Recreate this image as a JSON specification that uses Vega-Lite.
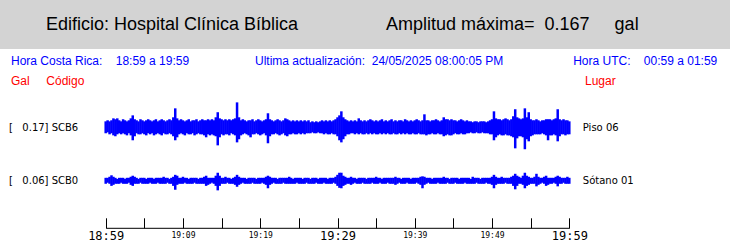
{
  "$schema": "https://vega.github.io/schema/vega-lite/v6.json",
  "padding": 0,
  "spacing": 0,
  "background": "white",
  "config": {
    "view": {"stroke": null},
    "axis": {"grid": false, "labelColor": "black", "tickColor": "black", "domainColor": "black"}
  },
  "datasets": {
    "scb6": [
{"t":0,"lo":-0.04,"hi":0.04},{"t":0.25,"lo":-0.034,"hi":0.047},{"t":0.5,"lo":-0.047,"hi":0.04},{"t":0.75,"lo":-0.04,"hi":0.047},{"t":1,"lo":-0.054,"hi":0.06},{"t":1.25,"lo":-0.06,"hi":0.054},{"t":1.5,"lo":-0.047,"hi":0.06},{"t":1.75,"lo":-0.04,"hi":0.047},{"t":2,"lo":-0.047,"hi":0.04},{"t":2.25,"lo":-0.04,"hi":0.054},{"t":2.5,"lo":-0.047,"hi":0.047},{"t":2.75,"lo":-0.054,"hi":0.04},{"t":3,"lo":-0.04,"hi":0.047},{"t":3.25,"lo":-0.054,"hi":0.06},{"t":3.5,"lo":-0.087,"hi":0.08},{"t":3.75,"lo":-0.06,"hi":0.054},{"t":4,"lo":-0.04,"hi":0.047},{"t":4.25,"lo":-0.047,"hi":0.04},{"t":4.5,"lo":-0.047,"hi":0.054},{"t":4.75,"lo":-0.04,"hi":0.047},{"t":5,"lo":-0.047,"hi":0.04},{"t":5.25,"lo":-0.054,"hi":0.047},{"t":5.5,"lo":-0.04,"hi":0.054},{"t":5.75,"lo":-0.047,"hi":0.047},{"t":6,"lo":-0.04,"hi":0.04},{"t":6.25,"lo":-0.054,"hi":0.047},{"t":6.5,"lo":-0.047,"hi":0.054},{"t":6.75,"lo":-0.04,"hi":0.04},{"t":7,"lo":-0.047,"hi":0.047},{"t":7.25,"lo":-0.054,"hi":0.054},{"t":7.5,"lo":-0.04,"hi":0.047},{"t":7.75,"lo":-0.047,"hi":0.04},{"t":8,"lo":-0.047,"hi":0.047},{"t":8.25,"lo":-0.04,"hi":0.054},{"t":8.5,"lo":-0.047,"hi":0.047},{"t":8.75,"lo":-0.06,"hi":0.067},{"t":9,"lo":-0.087,"hi":0.127},{"t":9.25,"lo":-0.067,"hi":0.06},{"t":9.5,"lo":-0.047,"hi":0.047},{"t":9.75,"lo":-0.04,"hi":0.054},
{"t":10,"lo":-0.047,"hi":0.047},{"t":10.25,"lo":-0.054,"hi":0.04},{"t":10.5,"lo":-0.04,"hi":0.047},{"t":10.75,"lo":-0.047,"hi":0.054},{"t":11,"lo":-0.047,"hi":0.04},{"t":11.25,"lo":-0.04,"hi":0.047},{"t":11.5,"lo":-0.054,"hi":0.047},{"t":11.75,"lo":-0.047,"hi":0.054},{"t":12,"lo":-0.04,"hi":0.04},{"t":12.25,"lo":-0.047,"hi":0.047},{"t":12.5,"lo":-0.047,"hi":0.054},{"t":12.75,"lo":-0.054,"hi":0.047},{"t":13,"lo":-0.067,"hi":0.047},{"t":13.25,"lo":-0.047,"hi":0.054},{"t":13.5,"lo":-0.054,"hi":0.047},{"t":13.75,"lo":-0.047,"hi":0.054},{"t":14,"lo":-0.054,"hi":0.047},{"t":14.25,"lo":-0.06,"hi":0.067},{"t":14.5,"lo":-0.121,"hi":0.101},{"t":14.75,"lo":-0.067,"hi":0.06},{"t":15,"lo":-0.047,"hi":0.054},{"t":15.25,"lo":-0.054,"hi":0.047},{"t":15.5,"lo":-0.047,"hi":0.054},{"t":15.75,"lo":-0.047,"hi":0.047},{"t":16,"lo":-0.054,"hi":0.054},{"t":16.25,"lo":-0.04,"hi":0.047},{"t":16.5,"lo":-0.047,"hi":0.054},{"t":16.75,"lo":-0.054,"hi":0.06},{"t":17,"lo":-0.101,"hi":0.167},{"t":17.25,"lo":-0.08,"hi":0.067},{"t":17.5,"lo":-0.054,"hi":0.047},{"t":17.75,"lo":-0.047,"hi":0.054},{"t":18,"lo":-0.04,"hi":0.047},{"t":18.25,"lo":-0.047,"hi":0.04},{"t":18.5,"lo":-0.054,"hi":0.047},{"t":18.75,"lo":-0.067,"hi":0.047},{"t":19,"lo":-0.047,"hi":0.054},{"t":19.25,"lo":-0.047,"hi":0.04},{"t":19.5,"lo":-0.04,"hi":0.047},{"t":19.75,"lo":-0.047,"hi":0.054},
{"t":20,"lo":-0.054,"hi":0.047},{"t":20.25,"lo":-0.047,"hi":0.04},{"t":20.5,"lo":-0.04,"hi":0.047},{"t":20.75,"lo":-0.054,"hi":0.054},{"t":21,"lo":-0.107,"hi":0.094},{"t":21.25,"lo":-0.06,"hi":0.054},{"t":21.5,"lo":-0.047,"hi":0.047},{"t":21.75,"lo":-0.047,"hi":0.04},{"t":22,"lo":-0.04,"hi":0.047},{"t":22.25,"lo":-0.047,"hi":0.054},{"t":22.5,"lo":-0.054,"hi":0.047},{"t":22.75,"lo":-0.047,"hi":0.04},{"t":23,"lo":-0.04,"hi":0.047},{"t":23.25,"lo":-0.054,"hi":0.06},{"t":23.5,"lo":-0.06,"hi":0.054},{"t":23.75,"lo":-0.047,"hi":0.047},{"t":24,"lo":-0.047,"hi":0.04},{"t":24.25,"lo":-0.04,"hi":0.047},{"t":24.5,"lo":-0.047,"hi":0.04},{"t":24.75,"lo":-0.047,"hi":0.047},{"t":25,"lo":-0.04,"hi":0.04},{"t":25.25,"lo":-0.047,"hi":0.047},{"t":25.5,"lo":-0.04,"hi":0.04},{"t":25.75,"lo":-0.047,"hi":0.047},{"t":26,"lo":-0.04,"hi":0.04},{"t":26.25,"lo":-0.04,"hi":0.047},{"t":26.5,"lo":-0.04,"hi":0.034},{"t":26.75,"lo":-0.034,"hi":0.04},{"t":27,"lo":-0.04,"hi":0.034},{"t":27.25,"lo":-0.04,"hi":0.04},{"t":27.5,"lo":-0.034,"hi":0.034},{"t":27.75,"lo":-0.04,"hi":0.04},{"t":28,"lo":-0.04,"hi":0.047},{"t":28.25,"lo":-0.047,"hi":0.04},{"t":28.5,"lo":-0.04,"hi":0.047},{"t":28.75,"lo":-0.047,"hi":0.04},{"t":29,"lo":-0.047,"hi":0.047},{"t":29.25,"lo":-0.04,"hi":0.04},{"t":29.5,"lo":-0.047,"hi":0.047},{"t":29.75,"lo":-0.047,"hi":0.054},
{"t":30,"lo":-0.06,"hi":0.067},{"t":30.25,"lo":-0.087,"hi":0.08},{"t":30.5,"lo":-0.101,"hi":0.107},{"t":30.75,"lo":-0.08,"hi":0.067},{"t":31,"lo":-0.06,"hi":0.054},{"t":31.25,"lo":-0.047,"hi":0.047},{"t":31.5,"lo":-0.047,"hi":0.04},{"t":31.75,"lo":-0.04,"hi":0.047},{"t":32,"lo":-0.04,"hi":0.04},{"t":32.25,"lo":-0.047,"hi":0.047},{"t":32.5,"lo":-0.04,"hi":0.04},{"t":32.75,"lo":-0.047,"hi":0.06},{"t":33,"lo":-0.04,"hi":0.047},{"t":33.25,"lo":-0.047,"hi":0.04},{"t":33.5,"lo":-0.047,"hi":0.047},{"t":33.75,"lo":-0.04,"hi":0.04},{"t":34,"lo":-0.047,"hi":0.047},{"t":34.25,"lo":-0.04,"hi":0.054},{"t":34.5,"lo":-0.047,"hi":0.047},{"t":34.75,"lo":-0.04,"hi":0.04},{"t":35,"lo":-0.047,"hi":0.047},{"t":35.25,"lo":-0.047,"hi":0.04},{"t":35.5,"lo":-0.04,"hi":0.047},{"t":35.75,"lo":-0.047,"hi":0.054},{"t":36,"lo":-0.04,"hi":0.04},{"t":36.25,"lo":-0.047,"hi":0.047},{"t":36.5,"lo":-0.04,"hi":0.04},{"t":36.75,"lo":-0.047,"hi":0.047},{"t":37,"lo":-0.047,"hi":0.054},{"t":37.25,"lo":-0.04,"hi":0.04},{"t":37.5,"lo":-0.047,"hi":0.047},{"t":37.75,"lo":-0.047,"hi":0.04},{"t":38,"lo":-0.04,"hi":0.047},{"t":38.25,"lo":-0.047,"hi":0.047},{"t":38.5,"lo":-0.04,"hi":0.04},{"t":38.75,"lo":-0.047,"hi":0.054},{"t":39,"lo":-0.04,"hi":0.047},{"t":39.25,"lo":-0.047,"hi":0.04},{"t":39.5,"lo":-0.047,"hi":0.047},{"t":39.75,"lo":-0.04,"hi":0.04},
{"t":40,"lo":-0.047,"hi":0.047},{"t":40.25,"lo":-0.047,"hi":0.054},{"t":40.5,"lo":-0.04,"hi":0.047},{"t":40.75,"lo":-0.047,"hi":0.04},{"t":41,"lo":-0.047,"hi":0.047},{"t":41.25,"lo":-0.047,"hi":0.087},{"t":41.5,"lo":-0.054,"hi":0.047},{"t":41.75,"lo":-0.047,"hi":0.047},{"t":42,"lo":-0.047,"hi":0.04},{"t":42.25,"lo":-0.04,"hi":0.047},{"t":42.5,"lo":-0.047,"hi":0.047},{"t":42.75,"lo":-0.047,"hi":0.054},{"t":43,"lo":-0.04,"hi":0.047},{"t":43.25,"lo":-0.047,"hi":0.04},{"t":43.5,"lo":-0.047,"hi":0.047},{"t":43.75,"lo":-0.06,"hi":0.067},{"t":44,"lo":-0.054,"hi":0.054},{"t":44.25,"lo":-0.047,"hi":0.054},{"t":44.5,"lo":-0.054,"hi":0.047},{"t":44.75,"lo":-0.054,"hi":0.054},{"t":45,"lo":-0.047,"hi":0.047},{"t":45.25,"lo":-0.04,"hi":0.047},{"t":45.5,"lo":-0.047,"hi":0.04},{"t":45.75,"lo":-0.047,"hi":0.047},{"t":46,"lo":-0.04,"hi":0.054},{"t":46.25,"lo":-0.047,"hi":0.047},{"t":46.5,"lo":-0.047,"hi":0.04},{"t":46.75,"lo":-0.04,"hi":0.047},{"t":47,"lo":-0.04,"hi":0.04},{"t":47.25,"lo":-0.034,"hi":0.04},{"t":47.5,"lo":-0.04,"hi":0.034},{"t":47.75,"lo":-0.04,"hi":0.04},{"t":48,"lo":-0.034,"hi":0.04},{"t":48.25,"lo":-0.04,"hi":0.034},{"t":48.5,"lo":-0.04,"hi":0.04},{"t":48.75,"lo":-0.034,"hi":0.04},{"t":49,"lo":-0.04,"hi":0.04},{"t":49.25,"lo":-0.04,"hi":0.034},{"t":49.5,"lo":-0.04,"hi":0.04},{"t":49.75,"lo":-0.047,"hi":0.047},
{"t":50,"lo":-0.047,"hi":0.054},{"t":50.25,"lo":-0.087,"hi":0.107},{"t":50.5,"lo":-0.067,"hi":0.06},{"t":50.75,"lo":-0.054,"hi":0.054},{"t":51,"lo":-0.047,"hi":0.054},{"t":51.25,"lo":-0.054,"hi":0.047},{"t":51.5,"lo":-0.054,"hi":0.054},{"t":51.75,"lo":-0.047,"hi":0.06},{"t":52,"lo":-0.054,"hi":0.054},{"t":52.25,"lo":-0.054,"hi":0.047},{"t":52.5,"lo":-0.06,"hi":0.054},{"t":52.75,"lo":-0.067,"hi":0.074},{"t":53,"lo":-0.141,"hi":0.121},{"t":53.25,"lo":-0.074,"hi":0.067},{"t":53.5,"lo":-0.06,"hi":0.06},{"t":53.75,"lo":-0.06,"hi":0.054},{"t":54,"lo":-0.067,"hi":0.06},{"t":54.25,"lo":-0.147,"hi":0.127},{"t":54.5,"lo":-0.08,"hi":0.067},{"t":54.75,"lo":-0.094,"hi":0.101},{"t":55,"lo":-0.06,"hi":0.054},{"t":55.25,"lo":-0.054,"hi":0.047},{"t":55.5,"lo":-0.047,"hi":0.047},{"t":55.75,"lo":-0.047,"hi":0.054},{"t":56,"lo":-0.047,"hi":0.047},{"t":56.25,"lo":-0.047,"hi":0.04},{"t":56.5,"lo":-0.04,"hi":0.047},{"t":56.75,"lo":-0.047,"hi":0.047},{"t":57,"lo":-0.054,"hi":0.054},{"t":57.25,"lo":-0.087,"hi":0.054},{"t":57.5,"lo":-0.054,"hi":0.054},{"t":57.75,"lo":-0.054,"hi":0.047},{"t":58,"lo":-0.047,"hi":0.054},{"t":58.25,"lo":-0.054,"hi":0.06},{"t":58.5,"lo":-0.094,"hi":0.121},{"t":58.75,"lo":-0.06,"hi":0.054},{"t":59,"lo":-0.047,"hi":0.047},{"t":59.25,"lo":-0.047,"hi":0.054},{"t":59.5,"lo":-0.054,"hi":0.047},{"t":59.75,"lo":-0.047,"hi":0.047},{"t":60,"lo":-0.047,"hi":0.04}
    ],
    "scb0": [
{"t":0,"lo":-0.02,"hi":0.02},{"t":0.25,"lo":-0.013,"hi":0.02},{"t":0.5,"lo":-0.02,"hi":0.027},{"t":0.75,"lo":-0.034,"hi":0.037},{"t":1,"lo":-0.027,"hi":0.027},{"t":1.25,"lo":-0.02,"hi":0.02},{"t":1.5,"lo":-0.02,"hi":0.013},{"t":1.75,"lo":-0.02,"hi":0.02},{"t":2,"lo":-0.013,"hi":0.02},{"t":2.25,"lo":-0.02,"hi":0.02},{"t":2.5,"lo":-0.02,"hi":0.013},{"t":2.75,"lo":-0.02,"hi":0.02},{"t":3,"lo":-0.013,"hi":0.02},{"t":3.25,"lo":-0.027,"hi":0.027},{"t":3.5,"lo":-0.034,"hi":0.034},{"t":3.75,"lo":-0.02,"hi":0.027},{"t":4,"lo":-0.02,"hi":0.02},{"t":4.25,"lo":-0.02,"hi":0.013},{"t":4.5,"lo":-0.013,"hi":0.02},{"t":4.75,"lo":-0.02,"hi":0.02},{"t":5,"lo":-0.02,"hi":0.02},{"t":5.25,"lo":-0.02,"hi":0.013},{"t":5.5,"lo":-0.02,"hi":0.02},{"t":5.75,"lo":-0.013,"hi":0.02},{"t":6,"lo":-0.02,"hi":0.02},{"t":6.25,"lo":-0.02,"hi":0.013},{"t":6.5,"lo":-0.02,"hi":0.02},{"t":6.75,"lo":-0.013,"hi":0.02},{"t":7,"lo":-0.02,"hi":0.02},{"t":7.25,"lo":-0.02,"hi":0.02},{"t":7.5,"lo":-0.02,"hi":0.027},{"t":7.75,"lo":-0.02,"hi":0.02},{"t":8,"lo":-0.013,"hi":0.02},{"t":8.25,"lo":-0.02,"hi":0.013},{"t":8.5,"lo":-0.02,"hi":0.02},{"t":8.75,"lo":-0.034,"hi":0.027},{"t":9,"lo":-0.06,"hi":0.04},{"t":9.25,"lo":-0.027,"hi":0.034},{"t":9.5,"lo":-0.02,"hi":0.02},{"t":9.75,"lo":-0.02,"hi":0.02},
{"t":10,"lo":-0.02,"hi":0.027},{"t":10.25,"lo":-0.013,"hi":0.02},{"t":10.5,"lo":-0.02,"hi":0.02},{"t":10.75,"lo":-0.02,"hi":0.013},{"t":11,"lo":-0.02,"hi":0.02},{"t":11.25,"lo":-0.02,"hi":0.02},{"t":11.5,"lo":-0.013,"hi":0.02},{"t":11.75,"lo":-0.02,"hi":0.02},{"t":12,"lo":-0.02,"hi":0.013},{"t":12.25,"lo":-0.02,"hi":0.02},{"t":12.5,"lo":-0.02,"hi":0.02},{"t":12.75,"lo":-0.02,"hi":0.027},{"t":13,"lo":-0.034,"hi":0.034},{"t":13.25,"lo":-0.027,"hi":0.02},{"t":13.5,"lo":-0.02,"hi":0.02},{"t":13.75,"lo":-0.013,"hi":0.02},{"t":14,"lo":-0.02,"hi":0.02},{"t":14.25,"lo":-0.034,"hi":0.034},{"t":14.5,"lo":-0.064,"hi":0.054},{"t":14.75,"lo":-0.034,"hi":0.034},{"t":15,"lo":-0.02,"hi":0.02},{"t":15.25,"lo":-0.02,"hi":0.02},{"t":15.5,"lo":-0.02,"hi":0.027},{"t":15.75,"lo":-0.013,"hi":0.02},{"t":16,"lo":-0.02,"hi":0.02},{"t":16.25,"lo":-0.02,"hi":0.013},{"t":16.5,"lo":-0.02,"hi":0.02},{"t":16.75,"lo":-0.027,"hi":0.027},{"t":17,"lo":-0.04,"hi":0.04},{"t":17.25,"lo":-0.027,"hi":0.027},{"t":17.5,"lo":-0.02,"hi":0.02},{"t":17.75,"lo":-0.013,"hi":0.02},{"t":18,"lo":-0.02,"hi":0.02},{"t":18.25,"lo":-0.02,"hi":0.013},{"t":18.5,"lo":-0.02,"hi":0.02},{"t":18.75,"lo":-0.02,"hi":0.02},{"t":19,"lo":-0.013,"hi":0.02},{"t":19.25,"lo":-0.02,"hi":0.02},{"t":19.5,"lo":-0.02,"hi":0.013},{"t":19.75,"lo":-0.02,"hi":0.02},
{"t":20,"lo":-0.02,"hi":0.02},{"t":20.25,"lo":-0.013,"hi":0.02},{"t":20.5,"lo":-0.02,"hi":0.02},{"t":20.75,"lo":-0.027,"hi":0.027},{"t":21,"lo":-0.05,"hi":0.034},{"t":21.25,"lo":-0.027,"hi":0.027},{"t":21.5,"lo":-0.02,"hi":0.02},{"t":21.75,"lo":-0.013,"hi":0.02},{"t":22,"lo":-0.02,"hi":0.02},{"t":22.25,"lo":-0.02,"hi":0.013},{"t":22.5,"lo":-0.02,"hi":0.02},{"t":22.75,"lo":-0.02,"hi":0.02},{"t":23,"lo":-0.013,"hi":0.02},{"t":23.25,"lo":-0.02,"hi":0.02},{"t":23.5,"lo":-0.02,"hi":0.02},{"t":23.75,"lo":-0.02,"hi":0.027},{"t":24,"lo":-0.02,"hi":0.02},{"t":24.25,"lo":-0.02,"hi":0.013},{"t":24.5,"lo":-0.02,"hi":0.02},{"t":24.75,"lo":-0.013,"hi":0.02},{"t":25,"lo":-0.02,"hi":0.02},{"t":25.25,"lo":-0.02,"hi":0.02},{"t":25.5,"lo":-0.02,"hi":0.013},{"t":25.75,"lo":-0.02,"hi":0.02},{"t":26,"lo":-0.013,"hi":0.02},{"t":26.25,"lo":-0.02,"hi":0.02},{"t":26.5,"lo":-0.02,"hi":0.013},{"t":26.75,"lo":-0.02,"hi":0.02},{"t":27,"lo":-0.02,"hi":0.02},{"t":27.25,"lo":-0.013,"hi":0.02},{"t":27.5,"lo":-0.02,"hi":0.013},{"t":27.75,"lo":-0.02,"hi":0.02},{"t":28,"lo":-0.02,"hi":0.02},{"t":28.25,"lo":-0.013,"hi":0.02},{"t":28.5,"lo":-0.02,"hi":0.02},{"t":28.75,"lo":-0.02,"hi":0.013},{"t":29,"lo":-0.02,"hi":0.02},{"t":29.25,"lo":-0.02,"hi":0.02},{"t":29.5,"lo":-0.013,"hi":0.02},{"t":29.75,"lo":-0.02,"hi":0.027},
{"t":30,"lo":-0.034,"hi":0.04},{"t":30.25,"lo":-0.047,"hi":0.054},{"t":30.5,"lo":-0.05,"hi":0.054},{"t":30.75,"lo":-0.034,"hi":0.034},{"t":31,"lo":-0.027,"hi":0.027},{"t":31.25,"lo":-0.02,"hi":0.02},{"t":31.5,"lo":-0.02,"hi":0.02},{"t":31.75,"lo":-0.027,"hi":0.027},{"t":32,"lo":-0.02,"hi":0.02},{"t":32.25,"lo":-0.013,"hi":0.02},{"t":32.5,"lo":-0.02,"hi":0.013},{"t":32.75,"lo":-0.02,"hi":0.02},{"t":33,"lo":-0.02,"hi":0.02},{"t":33.25,"lo":-0.013,"hi":0.02},{"t":33.5,"lo":-0.02,"hi":0.02},{"t":33.75,"lo":-0.02,"hi":0.013},{"t":34,"lo":-0.02,"hi":0.02},{"t":34.25,"lo":-0.02,"hi":0.02},{"t":34.5,"lo":-0.013,"hi":0.02},{"t":34.75,"lo":-0.02,"hi":0.02},{"t":35,"lo":-0.02,"hi":0.027},{"t":35.25,"lo":-0.02,"hi":0.02},{"t":35.5,"lo":-0.013,"hi":0.02},{"t":35.75,"lo":-0.02,"hi":0.013},{"t":36,"lo":-0.02,"hi":0.02},{"t":36.25,"lo":-0.02,"hi":0.02},{"t":36.5,"lo":-0.013,"hi":0.02},{"t":36.75,"lo":-0.02,"hi":0.02},{"t":37,"lo":-0.02,"hi":0.02},{"t":37.25,"lo":-0.02,"hi":0.02},{"t":37.5,"lo":-0.027,"hi":0.027},{"t":37.75,"lo":-0.02,"hi":0.02},{"t":38,"lo":-0.013,"hi":0.02},{"t":38.25,"lo":-0.02,"hi":0.013},{"t":38.5,"lo":-0.02,"hi":0.02},{"t":38.75,"lo":-0.02,"hi":0.02},{"t":39,"lo":-0.013,"hi":0.02},{"t":39.25,"lo":-0.02,"hi":0.02},{"t":39.5,"lo":-0.02,"hi":0.013},{"t":39.75,"lo":-0.02,"hi":0.02},
{"t":40,"lo":-0.02,"hi":0.02},{"t":40.25,"lo":-0.013,"hi":0.02},{"t":40.5,"lo":-0.02,"hi":0.02},{"t":40.75,"lo":-0.027,"hi":0.027},{"t":41,"lo":-0.05,"hi":0.03},{"t":41.25,"lo":-0.027,"hi":0.027},{"t":41.5,"lo":-0.02,"hi":0.02},{"t":41.75,"lo":-0.013,"hi":0.02},{"t":42,"lo":-0.02,"hi":0.02},{"t":42.25,"lo":-0.02,"hi":0.013},{"t":42.5,"lo":-0.02,"hi":0.02},{"t":42.75,"lo":-0.02,"hi":0.02},{"t":43,"lo":-0.013,"hi":0.02},{"t":43.25,"lo":-0.02,"hi":0.02},{"t":43.5,"lo":-0.02,"hi":0.02},{"t":43.75,"lo":-0.02,"hi":0.027},{"t":44,"lo":-0.02,"hi":0.02},{"t":44.25,"lo":-0.013,"hi":0.02},{"t":44.5,"lo":-0.02,"hi":0.013},{"t":44.75,"lo":-0.02,"hi":0.02},{"t":45,"lo":-0.02,"hi":0.02},{"t":45.25,"lo":-0.013,"hi":0.02},{"t":45.5,"lo":-0.02,"hi":0.02},{"t":45.75,"lo":-0.02,"hi":0.013},{"t":46,"lo":-0.02,"hi":0.02},{"t":46.25,"lo":-0.02,"hi":0.02},{"t":46.5,"lo":-0.013,"hi":0.02},{"t":46.75,"lo":-0.02,"hi":0.02},{"t":47,"lo":-0.02,"hi":0.02},{"t":47.25,"lo":-0.02,"hi":0.013},{"t":47.5,"lo":-0.02,"hi":0.027},{"t":47.75,"lo":-0.02,"hi":0.02},{"t":48,"lo":-0.013,"hi":0.02},{"t":48.25,"lo":-0.02,"hi":0.02},{"t":48.5,"lo":-0.02,"hi":0.013},{"t":48.75,"lo":-0.02,"hi":0.02},{"t":49,"lo":-0.02,"hi":0.02},{"t":49.25,"lo":-0.013,"hi":0.02},{"t":49.5,"lo":-0.02,"hi":0.02},{"t":49.75,"lo":-0.02,"hi":0.02},
{"t":50,"lo":-0.027,"hi":0.027},{"t":50.25,"lo":-0.05,"hi":0.04},{"t":50.5,"lo":-0.027,"hi":0.027},{"t":50.75,"lo":-0.02,"hi":0.02},{"t":51,"lo":-0.02,"hi":0.02},{"t":51.25,"lo":-0.02,"hi":0.027},{"t":51.5,"lo":-0.02,"hi":0.02},{"t":51.75,"lo":-0.013,"hi":0.02},{"t":52,"lo":-0.02,"hi":0.02},{"t":52.25,"lo":-0.02,"hi":0.02},{"t":52.5,"lo":-0.02,"hi":0.027},{"t":52.75,"lo":-0.034,"hi":0.034},{"t":53,"lo":-0.057,"hi":0.047},{"t":53.25,"lo":-0.034,"hi":0.034},{"t":53.5,"lo":-0.02,"hi":0.027},{"t":53.75,"lo":-0.02,"hi":0.02},{"t":54,"lo":-0.027,"hi":0.034},{"t":54.25,"lo":-0.05,"hi":0.054},{"t":54.5,"lo":-0.034,"hi":0.034},{"t":54.75,"lo":-0.027,"hi":0.027},{"t":55,"lo":-0.02,"hi":0.02},{"t":55.25,"lo":-0.02,"hi":0.02},{"t":55.5,"lo":-0.02,"hi":0.027},{"t":55.75,"lo":-0.037,"hi":0.047},{"t":56,"lo":-0.027,"hi":0.027},{"t":56.25,"lo":-0.02,"hi":0.02},{"t":56.5,"lo":-0.013,"hi":0.02},{"t":56.75,"lo":-0.02,"hi":0.027},{"t":57,"lo":-0.034,"hi":0.034},{"t":57.25,"lo":-0.027,"hi":0.02},{"t":57.5,"lo":-0.02,"hi":0.02},{"t":57.75,"lo":-0.02,"hi":0.02},{"t":58,"lo":-0.013,"hi":0.02},{"t":58.25,"lo":-0.02,"hi":0.027},{"t":58.5,"lo":-0.037,"hi":0.034},{"t":58.75,"lo":-0.02,"hi":0.027},{"t":59,"lo":-0.02,"hi":0.02},{"t":59.25,"lo":-0.013,"hi":0.02},{"t":59.5,"lo":-0.02,"hi":0.02},{"t":59.75,"lo":-0.02,"hi":0.027},{"t":60,"lo":-0.02,"hi":0.02}
    ]
  },
  "vconcat": [
    {
      "width": 730,
      "height": 49,
      "view": {"fill": "#d3d3d3", "stroke": null},
      "data": {"values": [
        {"k": "edificio", "txt": "Edificio: Hospital Clínica Bíblica"},
        {"k": "amplitud", "txt": "Amplitud máxima=\u00a0\u00a00.167\u00a0\u00a0\u00a0\u00a0\u00a0gal"}
      ]},
      "mark": {"type": "text", "align": "left", "baseline": "middle", "font": "Liberation Sans", "fontSize": 18, "color": "black"},
      "encoding": {
        "x": {"field": "k", "type": "nominal", "scale": {"type": "point", "domain": ["edificio", "amplitud"], "range": [46, 386], "padding": 0}, "axis": null},
        "text": {"field": "txt"}
      }
    },
    {
      "width": 730,
      "height": 24,
      "data": {"values": [
        {"k": "cr", "txt": "Hora Costa Rica:\u00a0\u00a0\u00a0\u00a018:59 a 19:59"},
        {"k": "act", "txt": "Ultima actualización:\u00a0\u00a024/05/2025 08:00:05 PM\u00a0\u00a0\u00a0\u00a0\u00a0\u00a0\u00a0\u00a0\u00a0\u00a0\u00a0\u00a0\u00a0\u00a0\u00a0\u00a0\u00a0\u00a0\u00a0\u00a0\u00a0Hora UTC:\u00a0\u00a0\u00a0\u00a000:59 a 01:59"}
      ]},
      "mark": {"type": "text", "align": "left", "baseline": "middle", "font": "Liberation Sans", "fontSize": 12, "color": "#0000ff"},
      "encoding": {
        "x": {"field": "k", "type": "nominal", "scale": {"type": "point", "domain": ["cr", "act"], "range": [11, 255], "padding": 0}, "axis": null},
        "text": {"field": "txt"}
      }
    },
    {
      "width": 730,
      "height": 15.5,
      "data": {"values": [
        {"k": "codigo", "txt": "Gal\u00a0\u00a0\u00a0\u00a0\u00a0Código"},
        {"k": "lugar", "txt": "Lugar"}
      ]},
      "mark": {"type": "text", "align": "left", "baseline": "middle", "font": "Liberation Sans", "fontSize": 12, "color": "#ff0000"},
      "encoding": {
        "x": {"field": "k", "type": "nominal", "scale": {"type": "point", "domain": ["codigo", "lugar"], "range": [11, 585], "padding": 0}, "axis": null},
        "text": {"field": "txt"}
      }
    },
    {
      "width": 730,
      "height": 138.8,
      "encoding": {
        "x": {
          "field": "t", "type": "quantitative",
          "scale": {"domain": [0, 60], "range": [105.7, 569.3], "nice": false, "zero": false},
          "axis": {
            "title": null,
            "values": [0, 5, 10, 15, 20, 25, 30, 35, 40, 45, 50, 55, 60],
            "tickSize": -10,
            "tickWidth": 1,
            "domainWidth": 1,
            "labelExpr": "datum.value % 10 == 0 ? timeFormat(datetime(2025, 4, 24, 18, 59 + datum.value), '%H:%M') : ''",
            "labelFont": "DejaVu Sans Mono",
            "labelFontSize": {"condition": {"test": "datum.value % 30 == 0", "value": 12}, "value": 8},
            "labelBaseline": "middle",
            "labelPadding": 18,
            "labelFlush": false,
            "labelOverlap": false,
            "labelBound": false
          }
        }
      },
      "layer": [
        {
          "data": {"name": "scb6"},
          "mark": {"type": "rule", "color": "#0000ff", "strokeWidth": 2.5},
          "encoding": {
            "y": {
              "field": "lo", "type": "quantitative",
              "scale": {"domain": [-0.6734, 0.2566], "nice": false, "zero": false},
              "axis": {
                "orient": "left", "title": null, "values": [0, -0.3585],
                "labelExpr": "datum.value == 0 ? '[\u00a0\u00a0\u00a00.17] SCB6' : '[\u00a0\u00a0\u00a00.06] SCB0'",
                "domain": false, "ticks": false, "tickSize": 0, "labelFont": "DejaVu Sans", "labelFontSize": 10,
                "labelAlign": "left", "labelPadding": -8.4, "labelOverlap": false, "labelBound": false, "labelFlush": false
              }
            },
            "y2": {"field": "hi"}
          }
        },
        {
          "data": {"name": "scb0"},
          "mark": {"type": "rule", "color": "#0000ff", "strokeWidth": 2.5},
          "encoding": {
            "y": {
              "field": "lo", "type": "quantitative",
              "scale": {"domain": [-0.3149, 0.6151], "nice": false, "zero": false},
              "axis": {
                "orient": "right", "title": null, "values": [0, 0.3585],
                "labelExpr": "datum.value == 0 ? 'Sótano 01' : 'Piso 06'",
                "domain": false, "ticks": false, "tickSize": 0, "labelFont": "DejaVu Sans", "labelFontSize": 10,
                "labelAlign": "left", "labelPadding": -147.7, "labelOverlap": false, "labelBound": false, "labelFlush": false
              }
            },
            "y2": {"field": "hi"}
          }
        }
      ],
      "resolve": {"scale": {"y": "independent"}, "axis": {"y": "independent"}}
    }
  ]
}
